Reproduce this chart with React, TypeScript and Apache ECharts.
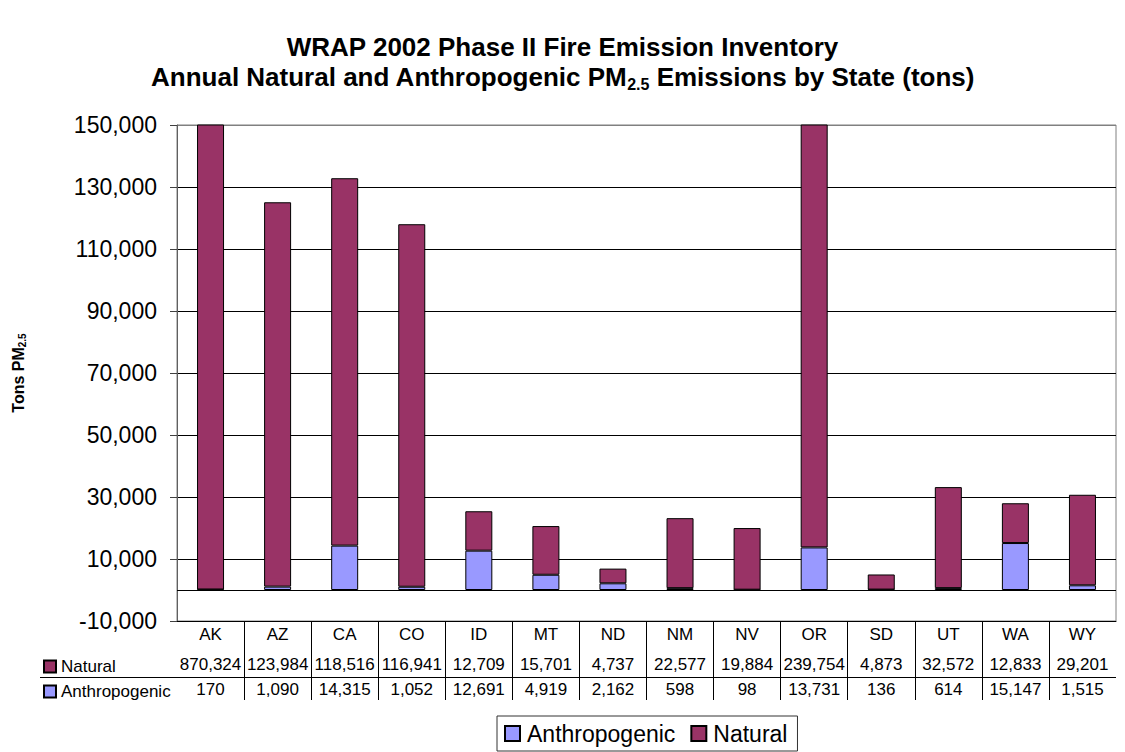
import React, { useEffect, useRef } from "react";
import * as echarts from "echarts";

const states = ["AK", "AZ", "CA", "CO", "ID", "MT", "ND", "NM", "NV", "OR", "SD", "UT", "WA", "WY"];
const natural = [870324, 123984, 118516, 116941, 12709, 15701, 4737, 22577, 19884, 239754, 4873, 32572, 12833, 29201];
const anthropogenic = [170, 1090, 14315, 1052, 12691, 4919, 2162, 598, 98, 13731, 136, 614, 15147, 1515];
const yTicks = { min: -10000, max: 150000, interval: 20000 };

const FONT = "'Liberation Sans', Arial, sans-serif";
const NAT_COLOR = "#993366";
const ANT_COLOR = "#9999FF";

const fmt = (v: number) => v.toLocaleString("en-US");

export default function App() {
  const ref = useRef<HTMLDivElement>(null);
  useEffect(() => {
    document.body.style.margin = "0";
    if (!ref.current) return;
    const chart = echarts.init(ref.current, null, { renderer: "svg" });
    const gridLeft = 177;
    const gridRight = 9;
    const option: any = {
      animation: false,
      backgroundColor: "#fff",
      textStyle: { fontFamily: FONT, color: "#000" },
      title: {
        text: "WRAP 2002 Phase II Fire Emission Inventory\nAnnual Natural and Anthropogenic PM{sub|2.5} Emissions by State (tons)",
        left: "center",
        top: 32,
        padding: 0,
        textStyle: {
          fontFamily: FONT,
          fontSize: 26,
          fontWeight: "bold",
          color: "#000",
          lineHeight: 30,
          rich: {
            sub: {
              fontFamily: FONT,
              fontSize: 16,
              fontWeight: "bold",
              color: "#000",
              lineHeight: 16,
              verticalAlign: "bottom",
            },
          },
        },
      },
      legend: [
        {
          data: ["Anthropogenic", "Natural"],
          orient: "horizontal",
          left: 497,
          top: 716,
          padding: [6, 10, 6, 7],
          itemGap: 15,
          itemWidth: 15,
          itemHeight: 15,
          borderColor: "#333",
          borderWidth: 1,
          selectedMode: false,
          icon: "rect",
          textStyle: { fontFamily: FONT, fontSize: 23, color: "#000", padding: [0, 0, 0, 2] },
        },
        {
          data: ["Natural"],
          left: 43,
          top: 658,
          padding: 0,
          itemWidth: 12,
          itemHeight: 12,
          selectedMode: false,
          icon: "rect",
          textStyle: { fontFamily: FONT, fontSize: 17, color: "#000" },
        },
        {
          data: ["Anthropogenic"],
          left: 43,
          top: 683,
          padding: 0,
          itemWidth: 12,
          itemHeight: 12,
          selectedMode: false,
          icon: "rect",
          textStyle: { fontFamily: FONT, fontSize: 17, color: "#000" },
        },
      ],
      grid: [
        {
          left: gridLeft,
          right: gridRight,
          top: 125,
          bottom: 131,
          show: true,
          borderColor: "#808080",
          borderWidth: 1,
          backgroundColor: "transparent",
        },
        {
          left: gridLeft,
          right: gridRight,
          top: 621,
          height: 79,
          show: false,
        },
      ],
      xAxis: [
        {
          type: "category",
          gridIndex: 0,
          data: states,
          position: "bottom",
          axisLine: { show: true, onZero: false, lineStyle: { color: "#000", width: 1 } },
          axisTick: { show: false },
          axisLabel: { interval: 0, margin: 5, fontSize: 17, color: "#000", fontFamily: FONT },
          splitLine: { show: false },
        },
        {
          type: "category",
          gridIndex: 0,
          data: natural.map(fmt),
          position: "bottom",
          axisLine: { show: false, onZero: false },
          axisTick: { show: false },
          axisLabel: { interval: 0, margin: 35, fontSize: 17, color: "#000", fontFamily: FONT },
          splitLine: { show: false },
        },
        {
          type: "category",
          gridIndex: 0,
          data: anthropogenic.map(fmt),
          position: "bottom",
          axisLine: { show: false, onZero: false },
          axisTick: { show: false },
          axisLabel: { interval: 0, margin: 60, fontSize: 17, color: "#000", fontFamily: FONT },
          splitLine: { show: false },
        },
        {
          type: "category",
          gridIndex: 1,
          data: states,
          position: "bottom",
          axisLine: { show: false, onZero: false },
          axisTick: { show: false },
          axisLabel: { show: false },
          splitLine: {
            show: true,
            interval: 0,
            showMinLine: false,
            showMaxLine: false,
            lineStyle: { color: "#000", width: 1 },
          },
        },
      ],
      yAxis: [
        {
          type: "value",
          gridIndex: 0,
          min: yTicks.min,
          max: yTicks.max,
          interval: yTicks.interval,
          name: "Tons PM{sub|2.5}",
          nameLocation: "middle",
          nameGap: 150,
          nameRotate: 90,
          nameTextStyle: {
            fontFamily: FONT,
            fontSize: 16,
            fontWeight: "bold",
            color: "#000",
            lineHeight: 18,
            rich: {
              sub: {
                fontFamily: FONT,
                fontSize: 10,
                fontWeight: "bold",
                color: "#000",
                lineHeight: 10,
                verticalAlign: "bottom",
              },
            },
          },
          axisLine: { show: true, lineStyle: { color: "#606060", width: 1 } },
          axisTick: { show: true, length: 7, inside: false, lineStyle: { color: "#404040" } },
          axisLabel: { fontSize: 23, color: "#000", margin: 20, fontFamily: FONT, formatter: (v: number) => fmt(v) },
          splitLine: {
            show: true,
            lineStyle: {
              color: ["#000", "#000", "#000", "#000", "#000", "#000", "#000", "#000", "#808080"],
              width: 1,
            },
          },
        },
        {
          type: "value",
          gridIndex: 1,
          show: false,
          min: 0,
          max: 1,
        },
      ],
      graphic: [
        {
          type: "line",
          shape: { x1: 40, y1: 677.5, x2: 1125 - gridRight, y2: 677.5 },
          style: { stroke: "#000", lineWidth: 1 },
          silent: true,
        },
      ],
      series: [
        {
          name: "Anthropogenic",
          type: "bar",
          stack: "total",
          xAxisIndex: 0,
          yAxisIndex: 0,
          data: anthropogenic,
          barWidth: 27,
          clip: true,
          itemStyle: { color: ANT_COLOR, borderColor: "#000", borderWidth: 1 },
          markLine: {
            silent: true,
            symbol: ["none", "none"],
            label: { show: false },
            lineStyle: { color: "#000", width: 1, type: "solid" },
            data: [{ yAxis: 0 }],
          },
        },
        {
          name: "Natural",
          type: "bar",
          stack: "total",
          xAxisIndex: 0,
          yAxisIndex: 0,
          data: natural,
          barWidth: 27,
          clip: true,
          itemStyle: { color: NAT_COLOR, borderColor: "#000", borderWidth: 1 },
        },
      ],
    };
    chart.setOption(option);
    return () => chart.dispose();
  }, []);
  return <div ref={ref} style={{ width: 1125, height: 752 }} />;
}
